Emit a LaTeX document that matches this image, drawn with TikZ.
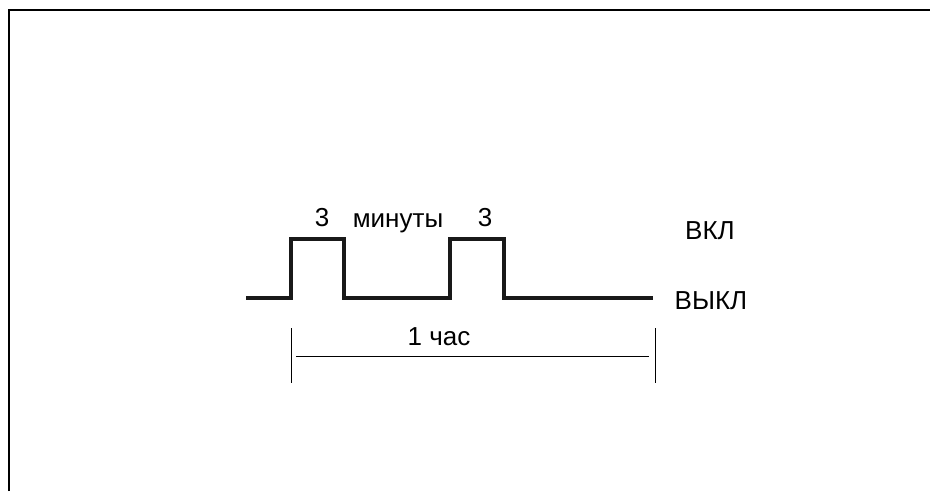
\documentclass[tikz,border=0pt]{standalone}
\usepackage{fontspec}
\setmainfont{Liberation Sans}
\begin{document}
\begin{tikzpicture}[x=1pt,y=-1pt,
  lbl/.style={inner sep=0pt,anchor=base,font=\fontsize{26}{30}\selectfont},
  wave/.style={line width=4pt,line join=miter,black!90},
  dim/.style={line width=1pt}]
\useasboundingbox (0,0) rectangle (930,491);
% frame
\draw[line width=2pt] (9,491) -- (9,10) -- (930,10);
% waveform
\coordinate (w0) at (246,298);
\coordinate (w1) at (653,298);
\draw[wave] (w0) -- (291,298) -- (291,239) -- (344,239) -- (344,298)
  -- (450,298) -- (450,239) -- (504,239) -- (504,298) -- (w1);
% labels
\node[lbl] (t1) at (322,226) {3};
\node[lbl] (tm) at (398,227) {минуты};
\node[lbl] (t2) at (485,226) {3};
\node[lbl] (on) at (710,239) {ВКЛ};
\node[lbl] (off) at (711,309) {ВЫКЛ};
% dimension
\coordinate (a1) at (291,328);
\coordinate (a2) at (291,383);
\coordinate (b1) at (655,328);
\coordinate (b2) at (655,383);
\coordinate (h1) at (296,356);
\coordinate (h2) at (649,356);
\draw[dim] (a1) -- (a2);
\draw[dim] (b1) -- (b2);
\draw[dim] (h1) -- (h2);
\node[lbl] (hr) at (439,345) {1 час};
\end{tikzpicture}
\end{document}
